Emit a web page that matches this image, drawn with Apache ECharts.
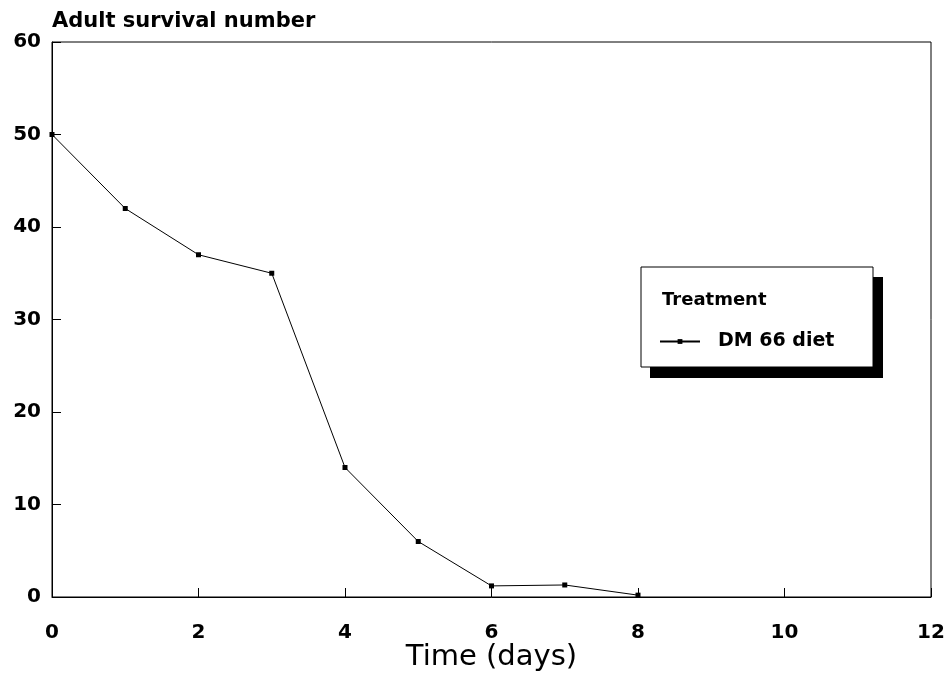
<!DOCTYPE html>
<html><head><meta charset="utf-8">
<script src="https://cdn.jsdelivr.net/npm/echarts@6/dist/echarts.min.js"></script>
<style>html,body{margin:0;padding:0;background:#fff}#c{width:950px;height:684px}</style>
</head><body><div id="c"></div>
<script>
const days = [0, 1, 2, 3, 4, 5, 6, 7, 8];
const survival = [50, 42, 37, 35, 14, 6, 1.2, 1.3, 0.2];
const seriesName = 'DM 66 diet';
const legendTitle = 'Treatment';
const yTitle = 'Adult survival number';
const xTitle = 'Time (days)';

const chart = echarts.init(document.getElementById('c'), null, {renderer: 'canvas'});
const dv = '"DejaVu Sans", Verdana, sans-serif';
chart.setOption({
  animation: false,
  backgroundColor: '#fff',
  title: {
    text: yTitle, left: 52, top: 11, padding: 0,
    textStyle: {fontFamily: dv, fontSize: 21, fontWeight: 'bold', color: '#000'}
  },
  grid: {left: 52, right: 19, top: 42, bottom: 87, outerBoundsMode: 'none', containLabel: false,
         show: true, borderColor: '#000', borderWidth: 1, backgroundColor: 'transparent'},
  xAxis: {
    type: 'value', min: 0, max: 12, interval: 2,
    name: xTitle, nameLocation: 'middle', nameGap: 46, nameMoveOverlap: false,
    nameTextStyle: {fontFamily: dv, fontSize: 29, color: '#000'},
    axisLine: {show: true, lineStyle: {color: '#000', width: 1}},
    axisTick: {show: true, inside: true, length: 9, lineStyle: {color: '#000'}},
    axisLabel: {margin: 26, fontFamily: dv, fontSize: 20, fontWeight: 'bold', color: '#000'},
    splitLine: {show: false}
  },
  yAxis: {
    type: 'value', min: 0, max: 60, interval: 10,
    axisLine: {show: true, lineStyle: {color: '#000', width: 1}},
    axisTick: {show: true, inside: true, length: 9, lineStyle: {color: '#000'}},
    axisLabel: {margin: 11, fontFamily: dv, fontSize: 20, fontWeight: 'bold', color: '#000'},
    splitLine: {show: false}
  },
  legend: {
    data: [seriesName],
    left: 659, top: 332, padding: 0,
    itemWidth: 40, itemHeight: 6,
    textStyle: {fontFamily: dv, fontSize: 19, fontWeight: 'bold', color: '#000', padding: [0, 0, 0, 13]},
    z: 100
  },
  graphic: [
    {type: 'rect', shape: {x: 650, y: 277, width: 233, height: 101}, style: {fill: '#000'}, z: 90},
    {type: 'rect', shape: {x: 641, y: 267, width: 232, height: 100}, style: {fill: '#fff', stroke: '#000', lineWidth: 1}, z: 91},
    {type: 'text', x: 662, y: 300, z: 100,
     style: {text: legendTitle, font: 'bold 18px ' + dv, fill: '#000', verticalAlign: 'middle'}}
  ],
  series: [{
    name: seriesName, type: 'line',
    data: days.map((d, i) => [d, survival[i]]),
    symbol: 'rect', symbolSize: 5, showSymbol: true,
    lineStyle: {color: '#000', width: 1},
    itemStyle: {color: '#000'}
  }]
});
</script></body></html>
